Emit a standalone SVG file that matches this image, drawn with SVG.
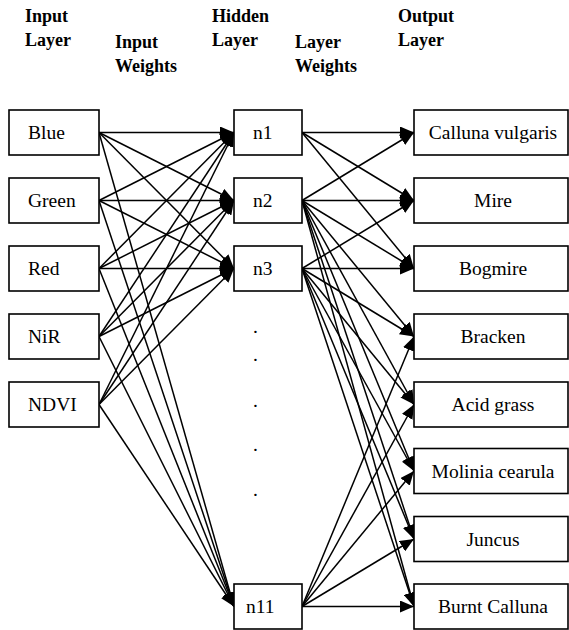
<svg xmlns="http://www.w3.org/2000/svg" width="569" height="630" viewBox="0 0 569 630">
<style>
.bg{fill:#fff}
.box{fill:#fff;stroke:#000;stroke-width:1.6}
.t{font-family:'Liberation Serif','DejaVu Serif',serif;font-size:19.5px;fill:#000}
.c{text-anchor:middle}
.h{font-family:'Liberation Serif','DejaVu Serif',serif;font-size:18px;font-weight:bold;fill:#000}
.ln{stroke:#000;stroke-width:1.5;fill:none;marker-end:url(#ah)}
</style>
<defs>
<marker id="ah" markerUnits="userSpaceOnUse" markerWidth="14" markerHeight="12" viewBox="0 0 14 12" refX="14" refY="6" orient="auto">
<path d="M0,0 L14,6 L0,12 z" fill="#000"/>
</marker>
</defs>
<rect class="bg" width="569" height="630"/>
<g id="headers">
<text class="h" x="25" y="22">Input</text>
<text class="h" x="25" y="46">Layer</text>
<text class="h" x="115" y="48">Input</text>
<text class="h" x="115" y="72">Weights</text>
<text class="h" x="212" y="22">Hidden</text>
<text class="h" x="212" y="46">Layer</text>
<text class="h" x="295" y="48">Layer</text>
<text class="h" x="295" y="72">Weights</text>
<text class="h" x="398" y="22">Output</text>
<text class="h" x="398" y="46">Layer</text>
</g>
<g id="connectors">
<line class="ln" x1="99" y1="132.5" x2="234" y2="132.5"/>
<line class="ln" x1="99" y1="132.5" x2="234" y2="200.5"/>
<line class="ln" x1="99" y1="132.5" x2="234" y2="268.5"/>
<line class="ln" x1="99" y1="132.5" x2="234" y2="606.5"/>
<line class="ln" x1="99" y1="200.5" x2="234" y2="132.5"/>
<line class="ln" x1="99" y1="200.5" x2="234" y2="200.5"/>
<line class="ln" x1="99" y1="200.5" x2="234" y2="268.5"/>
<line class="ln" x1="99" y1="200.5" x2="234" y2="606.5"/>
<line class="ln" x1="99" y1="268.5" x2="234" y2="132.5"/>
<line class="ln" x1="99" y1="268.5" x2="234" y2="200.5"/>
<line class="ln" x1="99" y1="268.5" x2="234" y2="268.5"/>
<line class="ln" x1="99" y1="268.5" x2="234" y2="606.5"/>
<line class="ln" x1="99" y1="336.5" x2="234" y2="132.5"/>
<line class="ln" x1="99" y1="336.5" x2="234" y2="200.5"/>
<line class="ln" x1="99" y1="336.5" x2="234" y2="268.5"/>
<line class="ln" x1="99" y1="336.5" x2="234" y2="606.5"/>
<line class="ln" x1="99" y1="404.5" x2="234" y2="132.5"/>
<line class="ln" x1="99" y1="404.5" x2="234" y2="200.5"/>
<line class="ln" x1="99" y1="404.5" x2="234" y2="268.5"/>
<line class="ln" x1="99" y1="404.5" x2="234" y2="606.5"/>
<line class="ln" x1="302" y1="132.5" x2="414" y2="132.5"/>
<line class="ln" x1="302" y1="132.5" x2="414" y2="200.5"/>
<line class="ln" x1="302" y1="132.5" x2="414" y2="268.5"/>
<line class="ln" x1="302" y1="200.5" x2="414" y2="132.5"/>
<line class="ln" x1="302" y1="200.5" x2="414" y2="200.5"/>
<line class="ln" x1="302" y1="200.5" x2="414" y2="268.5"/>
<line class="ln" x1="302" y1="200.5" x2="414" y2="336.5"/>
<line class="ln" x1="302" y1="200.5" x2="414" y2="404.5"/>
<line class="ln" x1="302" y1="200.5" x2="414" y2="471"/>
<line class="ln" x1="302" y1="200.5" x2="414" y2="539"/>
<line class="ln" x1="302" y1="200.5" x2="414" y2="606.5"/>
<line class="ln" x1="302" y1="268.5" x2="414" y2="200.5"/>
<line class="ln" x1="302" y1="268.5" x2="414" y2="268.5"/>
<line class="ln" x1="302" y1="268.5" x2="414" y2="336.5"/>
<line class="ln" x1="302" y1="268.5" x2="414" y2="404.5"/>
<line class="ln" x1="302" y1="268.5" x2="414" y2="471"/>
<line class="ln" x1="302" y1="268.5" x2="414" y2="539"/>
<line class="ln" x1="302" y1="268.5" x2="414" y2="606.5"/>
<line class="ln" x1="302" y1="606.5" x2="414" y2="336.5"/>
<line class="ln" x1="302" y1="606.5" x2="414" y2="404.5"/>
<line class="ln" x1="302" y1="606.5" x2="414" y2="471"/>
<line class="ln" x1="302" y1="606.5" x2="414" y2="539"/>
<line class="ln" x1="302" y1="606.5" x2="414" y2="606.5"/>
</g>
<g id="in-blue"><rect class="box" x="9" y="110" width="90" height="45"/><text class="t" x="28" y="139">Blue</text></g>
<g id="in-green"><rect class="box" x="9" y="178" width="90" height="45"/><text class="t" x="28" y="207">Green</text></g>
<g id="in-red"><rect class="box" x="9" y="246" width="90" height="45"/><text class="t" x="28" y="275">Red</text></g>
<g id="in-nir"><rect class="box" x="9" y="314" width="90" height="45"/><text class="t" x="28" y="343">NiR</text></g>
<g id="in-ndvi"><rect class="box" x="9" y="382" width="90" height="45"/><text class="t" x="28" y="411">NDVI</text></g>
<g id="h-n1"><rect class="box" x="234" y="110" width="68" height="45"/><text class="t" x="253" y="139">n1</text></g>
<g id="h-n2"><rect class="box" x="234" y="178" width="68" height="45"/><text class="t" x="253" y="207">n2</text></g>
<g id="h-n3"><rect class="box" x="234" y="246" width="68" height="45"/><text class="t" x="253" y="275">n3</text></g>
<g id="h-dots">
<text class="t" x="253" y="333">.</text>
<text class="t" x="253" y="361">.</text>
<text class="t" x="253" y="407">.</text>
<text class="t" x="253" y="451">.</text>
<text class="t" x="253" y="496">.</text>
</g>
<g id="h-n11"><rect class="box" x="234" y="584" width="68" height="45"/><text class="t" x="246" y="613">n11</text></g>
<g id="out-calluna"><rect class="box" x="414" y="110" width="154" height="45"/><text class="t c" x="493" y="139">Calluna vulgaris</text></g>
<g id="out-mire"><rect class="box" x="414" y="178" width="154" height="45"/><text class="t c" x="493" y="207">Mire</text></g>
<g id="out-bogmire"><rect class="box" x="414" y="246" width="154" height="45"/><text class="t c" x="493" y="275">Bogmire</text></g>
<g id="out-bracken"><rect class="box" x="414" y="314" width="154" height="45"/><text class="t c" x="493" y="343">Bracken</text></g>
<g id="out-acid"><rect class="box" x="414" y="382" width="154" height="45"/><text class="t c" x="493" y="411">Acid grass</text></g>
<g id="out-molinia"><rect class="box" x="414" y="448.5" width="154" height="45"/><text class="t c" x="493" y="477.5">Molinia cearula</text></g>
<g id="out-juncus"><rect class="box" x="414" y="516.5" width="154" height="45"/><text class="t c" x="493" y="545.5">Juncus</text></g>
<g id="out-burnt"><rect class="box" x="414" y="584" width="154" height="45"/><text class="t c" x="493" y="613">Burnt Calluna</text></g>
</svg>
